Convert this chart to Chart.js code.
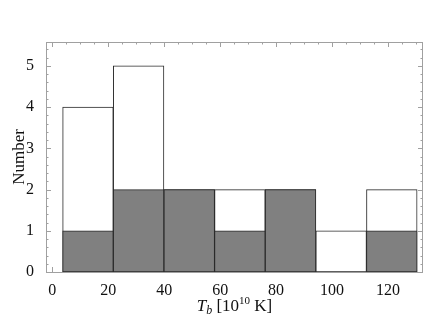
<!DOCTYPE html>
<html lang="en">
<head>
  <meta charset="UTF-8">
  <title>Tb histogram</title>
  <script src="https://cdn.jsdelivr.net/npm/chart.js"></script>
  <style>
    body { margin: 0; padding: 0; background: white; }
    #wrap { width: 436px; height: 328px; }
  </style>
</head>
<body>
  <div id="wrap"><canvas id="histChart" width="436" height="328"></canvas></div>
  <script>
    // Histogram bins (in units of 10^10 K) and counts
    const binEdges = [3.7, 21.8, 39.9, 58.0, 76.1, 94.2, 112.3, 130.4];
    const allCounts = [4, 5, 2, 2, 2, 1, 2];
    const subCounts = [1, 2, 2, 1, 2, 0, 1];
    const xTickValues = [0, 20, 40, 60, 80, 100, 120];
    const yTickValues = [0, 1, 2, 3, 4, 5];

    const binCenters = binEdges.slice(0, -1).map((e, i) => (e + binEdges[i + 1]) / 2);
    const serif = "'Liberation Serif', 'DejaVu Serif', serif";

    // frame + inward ticks on all sides, drawn under the bars
    const framePlugin = {
      id: 'frame',
      beforeDatasetsDraw(chart) {
        const { ctx, chartArea: a, scales: { x, y } } = chart;
        ctx.save();
        ctx.strokeStyle = '#a0a0a0';
        ctx.lineWidth = 1;
        ctx.strokeRect(Math.round(a.left) + 0.5, Math.round(a.top) + 0.5,
          Math.round(a.right - a.left) - 1, Math.round(a.bottom - a.top));
        ctx.beginPath();
        for (let v = 0; v <= 130; v += 5) {
          const px = Math.round(x.getPixelForValue(v)) + 0.5;
          const len = v % 20 === 0 ? 5 : 2.5;
          ctx.moveTo(px, a.bottom); ctx.lineTo(px, a.bottom - len);
          ctx.moveTo(px, a.top); ctx.lineTo(px, a.top + len);
        }
        for (let i = 0; i <= 27; i++) {
          const v = i * 0.2;
          const py = Math.round(y.getPixelForValue(v)) + 0.5;
          const len = i % 5 === 0 ? 5 : 2.5;
          ctx.moveTo(a.left, py); ctx.lineTo(a.left + len, py);
          ctx.moveTo(a.right, py); ctx.lineTo(a.right - len, py);
        }
        ctx.stroke();
        ctx.restore();
      },
      afterDraw(chart) {
        const { ctx, chartArea: a } = chart;
        ctx.save();
        ctx.fillStyle = '#111';
        // x title: T_b [10^10 K]
        const parts = [
          { t: 'T', f: 'italic 17px ' + serif, dy: 0 },
          { t: 'b', f: 'italic 12px ' + serif, dy: 3 },
          { t: ' [10', f: '17px ' + serif, dy: 0 },
          { t: '10', f: '11px ' + serif, dy: -7 },
          { t: ' K]', f: '17px ' + serif, dy: 0 }
        ];
        let total = 0;
        parts.forEach(p => { ctx.font = p.f; p.w = ctx.measureText(p.t).width; total += p.w; });
        let cx = (a.left + a.right) / 2 - total / 2;
        ctx.textBaseline = 'alphabetic';
        parts.forEach(p => { ctx.font = p.f; ctx.fillText(p.t, cx, 311 + p.dy); cx += p.w; });
        // y title
        ctx.translate(24, (a.top + a.bottom) / 2);
        ctx.rotate(-Math.PI / 2);
        ctx.font = '17px ' + serif;
        ctx.textAlign = 'center';
        ctx.fillText('Number', 0, 0);
        ctx.restore();
      }
    };

    new Chart(document.getElementById('histChart'), {
      type: 'bar',
      data: {
        datasets: [
          {
            label: 'subset',
            data: binCenters.map((c, i) => ({ x: c, y: subCounts[i] })),
            backgroundColor: '#808080',
            borderColor: '#2a2a2a',
            borderWidth: 1,
            borderSkipped: false,
            order: 0
          },
          {
            label: 'all',
            data: binCenters.map((c, i) => ({ x: c, y: allCounts[i] })),
            backgroundColor: '#ffffff',
            borderColor: '#2a2a2a',
            borderWidth: 1,
            borderSkipped: false,
            order: 1
          }
        ]
      },
      plugins: [framePlugin],
      options: {
        responsive: false,
        animation: false,
        grouped: false,
        barPercentage: 1,
        categoryPercentage: 1,
        layout: { padding: { left: 0, right: 13, top: 42, bottom: 0 } },
        plugins: { legend: { display: false }, tooltip: { enabled: false } },
        scales: {
          x: {
            type: 'linear',
            offset: false,
            min: -2.25,
            max: 132.5,
            afterBuildTicks: s => { s.ticks = xTickValues.map(v => ({ value: v })); },
            afterFit: s => { s.height = 56; },
            grid: { display: false },
            border: { display: false },
            ticks: { color: '#111', padding: 1, maxRotation: 0, font: { family: serif, size: 16 } }
          },
          y: {
            min: 0,
            max: 5.58,
            afterBuildTicks: s => { s.ticks = yTickValues.map(v => ({ value: v })); },
            afterFit: s => { s.width = 46; },
            grid: { display: false },
            border: { display: false },
            ticks: { color: '#111', padding: 4, font: { family: serif, size: 16 } }
          }
        }
      }
    });
  </script>
</body>
</html>
